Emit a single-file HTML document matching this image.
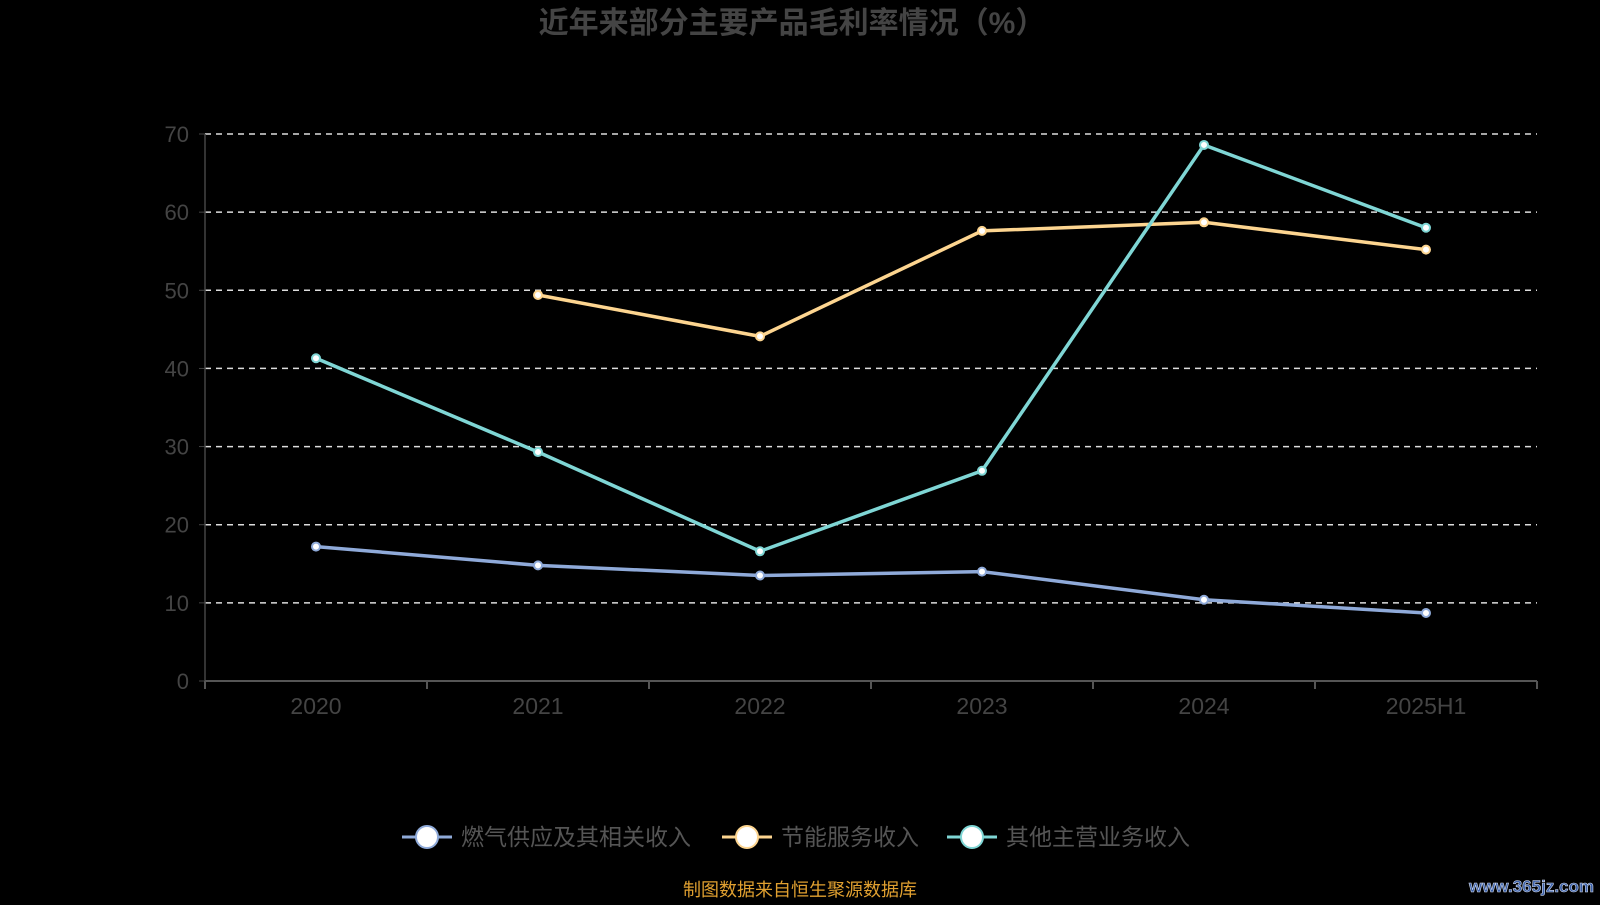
<!DOCTYPE html>
<html><head><meta charset="utf-8"><style>
body{margin:0;background:#000;width:1600px;height:900px;overflow:hidden;font-family:"Liberation Sans","Noto Sans CJK SC",sans-serif}
</style></head><body>
<svg id="c" width="1600" height="900">
<text x="792" y="33" text-anchor="middle" font-size="30" font-weight="bold" fill="#444" font-family="Liberation Sans, Noto Sans CJK SC, sans-serif">近年来部分主要产品毛利率情况（%）</text>
<g id="grid"></g><g id="axes"></g><g id="series"></g>
<g id="legend"></g>
<text x="800" y="896" text-anchor="middle" font-size="18" fill="#e0a030" font-family="Liberation Sans, Noto Sans CJK SC, sans-serif">制图数据来自恒生聚源数据库</text>
<text x="1594" y="892" text-anchor="end" font-size="17" font-weight="bold" fill="#3a5fa8" stroke="#cfd8ea" stroke-width="0.6">www.365jz.com</text>
</svg>
<script>
const categories=["2020","2021","2022","2023","2024","2025H1"];
const gasSupply=[17.2,14.8,13.5,14.0,10.4,8.7];
const energyService=[null,49.4,44.1,57.6,58.7,55.2];
const otherBusiness=[41.3,29.3,16.6,26.9,68.6,58.0];
const yTicks=[0,10,20,30,40,50,60,70];
const seriesNames=["燃气供应及其相关收入","节能服务收入","其他主营业务收入"];
const NS="http://www.w3.org/2000/svg";
const L=205,R=1537,T=134,B=681,yMax=70;
const bw=(R-L)/categories.length;
const x=i=>L+bw*(i+0.5);
const y=v=>B-(v/yMax)*(B-T);
function mk(tag,attrs,parent){const e=document.createElementNS(NS,tag);for(const k in attrs)e.setAttribute(k,attrs[k]);parent.appendChild(e);return e;}
const grid=document.getElementById('grid'),axes=document.getElementById('axes'),ser=document.getElementById('series'),leg=document.getElementById('legend');
const FF="Liberation Sans, Noto Sans CJK SC, sans-serif";
yTicks.forEach(v=>{
  if(v>0){const g=mk('line',{x1:L,x2:R,y1:y(v),y2:y(v),stroke:'#ddd','stroke-width':1.5,'stroke-dasharray':'6,5'},grid);
  
  }
  const t=mk('text',{x:L-16,y:y(v)+8,'text-anchor':'end','font-size':22,fill:'#444','font-family':FF},axes);t.textContent=v;
  
  
  const tk=mk('line',{x1:L-6,x2:L,y1:y(v),y2:y(v),stroke:'#444'},axes);
  
  
});
const ya=mk('line',{x1:L,x2:L,y1:T,y2:B,stroke:'#444','stroke-width':1.5},axes);


const xa=mk('line',{x1:L,x2:R,y1:B,y2:B,stroke:'#555','stroke-width':2},axes);


for(let i=0;i<=categories.length;i++){const tk=mk('line',{x1:L+bw*i,x2:L+bw*i,y1:B,y2:B+8,stroke:'#555','stroke-width':2},axes);
  
  }
categories.forEach((c,i)=>{const t=mk('text',{x:x(i),y:B+33,'text-anchor':'middle','font-size':23,fill:'#444','font-family':FF},axes);t.textContent=c;
  
  });
const colors=['#8faad9','#fdd590','#7fd6d5'];
[gasSupply,energyService,otherBusiness].forEach((data,s)=>{
  const g=mk('g',{},ser);
  
  
  let d='';data.forEach((v,i)=>{if(v==null)return;d+=(d?'L':'M')+x(i)+','+y(v);});
  const p=mk('path',{d:d,fill:'none',stroke:colors[s],'stroke-width':3.5},g);
  
  
  data.forEach((v,i)=>{if(v==null)return;const c=mk('circle',{cx:x(i),cy:y(v),r:4,fill:'#fff',stroke:colors[s],'stroke-width':2},g);
    
    });
});
const lx=[427,747,972];
seriesNames.forEach((n,s)=>{
  const g=mk('g',{},leg);
  
  
  mk('line',{x1:lx[s]-25,x2:lx[s]+25,y1:837,y2:837,stroke:colors[s],'stroke-width':3},g);
  mk('circle',{cx:lx[s],cy:837,r:11,fill:'#fff',stroke:colors[s],'stroke-width':2},g);
  const t=mk('text',{x:lx[s]+34,y:845,'font-size':23,fill:'#555','font-family':FF},g);t.textContent=n;
});
</script>
</body></html>
